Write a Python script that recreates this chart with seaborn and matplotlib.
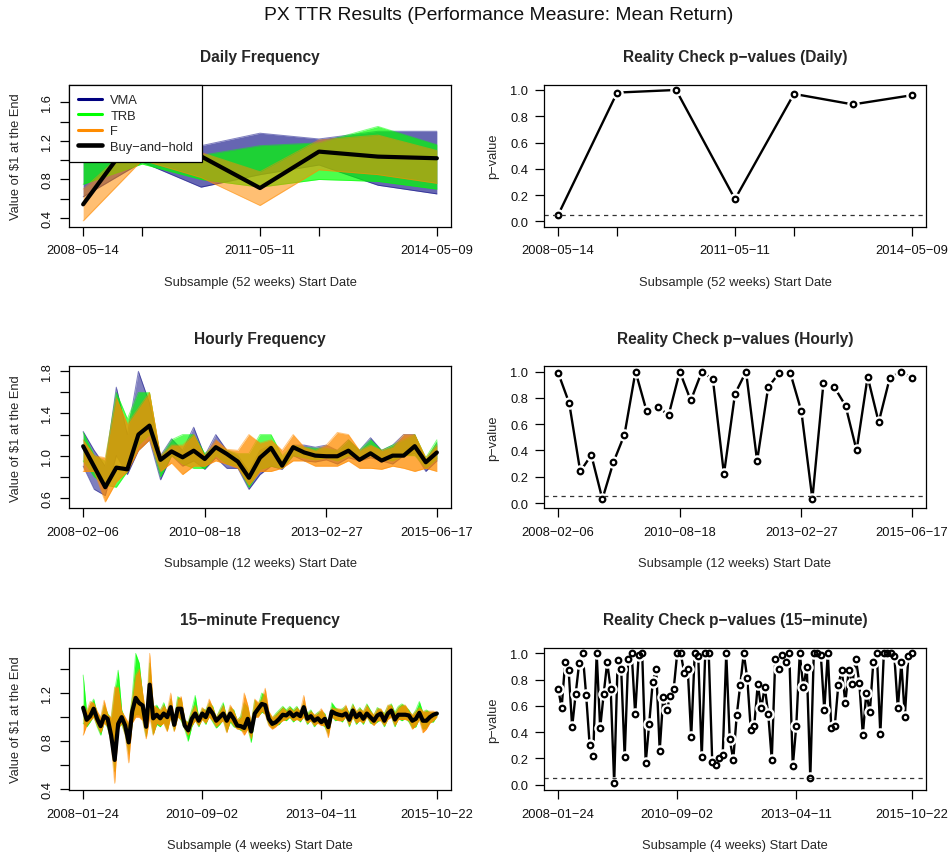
import numpy as np
import matplotlib.pyplot as plt
from matplotlib.lines import Line2D
import seaborn as sns

# ---- data ----
# Daily (52-week subsamples)
daily_ticks = [0, 1, 3, 4, 6]
daily_labels = ["2008-05-14", "", "2011-05-11", "", "2014-05-09"]
bh_daily = [0.542, 1.37, 1.04, 0.711, 1.089, 1.037, 1.02]
vma_daily_lo = [0.62, 0.98, 0.72, 0.85, 0.95, 0.74, 0.65]
vma_daily_hi = [1.00, 1.15, 1.15, 1.28, 1.22, 1.30, 1.30]
trb_daily_lo = [0.75, 0.96, 0.80, 0.72, 0.80, 0.78, 0.70]
trb_daily_hi = [1.00, 1.05, 1.05, 1.15, 1.18, 1.35, 1.16]
f_daily_lo = [0.37, 1.00, 0.82, 0.53, 0.90, 0.85, 0.76]
f_daily_hi = [0.70, 1.25, 1.08, 0.88, 1.21, 1.26, 1.10]
p_daily = [0.05, 0.98, 1.00, 0.17, 0.97, 0.89, 0.96]

# Hourly (12-week subsamples)
hourly_ticks = [0, 11, 22, 32]
hourly_labels = ["2008-02-06", "2010-08-18", "2013-02-27", "2015-06-17"]
bh_hourly = [1.089, 0.895, 0.70, 0.886, 0.87, 1.20, 1.285, 0.96, 1.04, 0.984, 1.047,
             0.968, 1.08, 1.016, 0.943, 0.79, 0.98, 1.073, 0.905, 1.08, 1.03, 1.0,
             0.994, 0.994, 1.047, 0.96, 1.022, 0.953, 1.0, 1.0, 1.09, 0.937, 1.03]
vma_hourly_lo = [0.90, 0.68, 0.62, 1.00, 0.82, 1.05, 1.15, 0.77, 1.00, 0.90, 0.95, 0.87,
                 0.98, 0.88, 0.88, 0.68, 0.82, 0.90, 0.87, 1.00, 0.95, 0.94, 0.96, 0.92,
                 0.98, 0.95, 0.98, 0.95, 0.92, 1.00, 1.02, 0.85, 0.95]
vma_hourly_hi = [1.23, 1.05, 0.90, 1.65, 1.20, 1.80, 1.50, 1.00, 1.16, 1.05, 1.27, 1.00,
                 1.20, 1.05, 1.00, 0.85, 1.05, 1.10, 0.95, 1.10, 1.10, 1.08, 1.10, 1.05,
                 1.15, 1.05, 1.17, 1.05, 1.10, 1.20, 1.20, 0.95, 1.12]
trb_hourly_lo = [0.95, 0.80, 0.72, 0.70, 0.85, 1.10, 1.20, 0.80, 1.00, 0.92, 0.88, 0.88,
                 1.00, 0.92, 0.90, 0.70, 0.87, 0.90, 0.88, 1.00, 0.98, 0.96, 0.98, 0.95,
                 1.00, 0.97, 1.00, 0.97, 0.95, 1.00, 1.00, 0.88, 0.97]
trb_hourly_hi = [1.22, 1.00, 0.95, 1.60, 1.35, 1.60, 1.60, 0.98, 1.15, 1.20, 1.20, 1.02,
                 1.10, 1.05, 1.02, 1.02, 1.20, 1.20, 1.00, 1.10, 1.08, 1.07, 1.07, 1.05,
                 1.15, 1.05, 1.15, 1.05, 1.10, 1.15, 1.20, 0.98, 1.15]
f_hourly_lo = [0.85, 0.85, 0.56, 0.75, 0.85, 1.05, 1.15, 0.85, 0.93, 0.82, 0.90, 0.90,
               0.95, 0.92, 0.88, 0.72, 0.85, 0.85, 0.88, 0.95, 0.95, 0.90, 0.90, 0.90,
               0.95, 0.88, 0.88, 0.87, 0.90, 0.88, 0.85, 0.88, 0.85]
f_hourly_hi = [1.15, 1.00, 0.98, 1.55, 1.30, 1.45, 1.60, 1.00, 1.10, 1.10, 1.20, 1.00,
               1.15, 1.06, 1.05, 1.20, 1.12, 1.15, 1.05, 1.20, 1.08, 1.05, 1.10, 1.22,
               1.20, 1.05, 1.10, 1.05, 1.08, 1.20, 1.20, 0.98, 1.10]
p_hourly = [0.99, 0.76, 0.24, 0.365, 0.03, 0.31, 0.52, 1.0, 0.70, 0.73, 0.67, 1.0,
            0.78, 1.0, 0.94, 0.22, 0.83, 1.0, 0.32, 0.88, 0.99, 0.99, 0.70, 0.03,
            0.91, 0.88, 0.74, 0.40, 0.96, 0.615, 0.95, 1.0, 0.95]

# 15-minute (4-week subsamples)
min15_ticks = [0, 34, 68, 101]
min15_labels = ["2008-01-24", "2010-09-02", "2013-04-11", "2015-10-22"]
bh_min15 = [1.078, 0.978, 1.008, 1.07, 0.986, 0.925, 1.008, 0.986, 0.847, 0.644,
            0.944, 1.0, 0.93, 0.79, 1.047, 1.16, 1.117, 1.097, 0.92, 1.27,
            0.99, 1.02, 0.99, 1.03, 1.0, 1.083, 0.936, 1.07, 1.07, 0.93,
            0.89, 0.986, 1.03, 0.97, 1.03, 1.0, 1.07, 1.03, 0.97, 1.0,
            1.03, 0.97, 1.03, 0.986, 0.93, 0.925, 0.91, 0.986, 0.88, 1.03,
            1.07, 1.11, 1.10, 0.986, 0.944, 0.958, 0.986, 1.02, 1.014, 1.04,
            1.008, 1.03, 1.008, 1.083, 0.986, 1.008, 0.97, 0.99, 0.958, 0.986,
            0.917, 1.047, 1.03, 1.02, 1.014, 1.03, 0.978, 1.055, 1.0, 1.03,
            0.986, 1.03, 1.0, 0.97, 1.014, 1.03, 0.97, 1.03, 1.055, 0.98,
            1.02, 1.02, 1.02, 1.014, 0.97, 0.986, 1.036, 0.97, 0.97, 1.0,
            1.02, 1.03]
trb_min15_lo = [0.95, 0.92, 0.96, 1.01, 0.92, 0.85, 0.96, 0.91, 0.80, 0.55,
                0.92, 0.94, 0.86, 0.70, 0.96, 1.02, 1.02, 0.98, 0.84, 1.05,
                0.86, 0.94, 0.92, 0.96, 0.89, 1.01, 0.89, 1.01, 0.97, 0.90,
                0.80, 0.92, 0.98, 0.92, 0.99, 0.94, 1.01, 0.96, 0.91, 0.94,
                0.98, 0.88, 0.96, 0.92, 0.91, 0.89, 0.88, 0.91, 0.79, 1.01,
                1.01, 1.04, 1.03, 0.94, 0.91, 0.93, 0.94, 0.98, 0.97, 1.00,
                0.96, 0.99, 0.96, 1.01, 0.94, 0.98, 0.92, 0.96, 0.94, 0.92,
                0.86, 1.01, 0.97, 0.98, 0.96, 1.01, 0.92, 1.01, 0.94, 0.98,
                0.94, 1.01, 0.95, 0.94, 0.96, 0.98, 0.92, 0.99, 1.01, 0.92,
                0.99, 0.97, 0.99, 0.96, 0.91, 0.92, 0.99, 0.90, 0.91, 0.96,
                0.96, 1.01]
trb_min15_hi = [1.35, 1.04, 1.10, 1.15, 1.03, 0.98, 1.10, 1.03, 0.98, 1.22,
                1.39, 1.06, 0.98, 0.93, 1.17, 1.53, 1.45, 1.18, 0.98, 1.45,
                1.08, 1.10, 1.05, 1.12, 1.03, 1.15, 0.97, 1.17, 1.15, 0.97,
                0.96, 1.06, 1.18, 0.99, 1.07, 1.06, 1.12, 1.09, 0.99, 1.06,
                1.12, 0.99, 1.08, 1.06, 0.97, 1.01, 1.12, 1.08, 0.94, 1.14,
                1.10, 1.20, 1.18, 1.04, 0.99, 1.03, 1.06, 1.09, 1.06, 1.09,
                1.06, 1.09, 1.04, 1.12, 1.03, 1.06, 1.01, 1.04, 1.05, 1.03,
                0.94, 1.12, 1.08, 1.06, 1.07, 1.09, 1.03, 1.11, 1.04, 1.08,
                1.04, 1.11, 1.06, 1.01, 1.08, 1.06, 1.03, 1.09, 1.11, 1.04,
                1.09, 1.11, 1.09, 1.06, 1.01, 1.06, 1.13, 1.04, 1.06, 1.04,
                1.04, 1.03]
f_min15_lo = [0.85, 0.93, 0.97, 1.00, 0.93, 0.87, 0.95, 0.92, 0.78, 0.45,
              0.90, 0.95, 0.85, 0.62, 0.95, 1.00, 1.00, 0.97, 0.82, 1.00,
              0.85, 0.95, 0.93, 0.95, 0.88, 1.00, 0.88, 1.00, 0.98, 0.90,
              0.85, 0.93, 0.97, 0.93, 0.98, 0.95, 1.00, 0.97, 0.92, 0.95,
              0.97, 0.87, 0.97, 0.93, 0.90, 0.90, 0.85, 0.90, 0.82, 1.00,
              1.00, 1.05, 1.02, 0.93, 0.90, 0.92, 0.95, 0.97, 0.98, 1.00,
              0.97, 0.98, 0.97, 1.00, 0.95, 0.97, 0.93, 0.95, 0.93, 0.93,
              0.83, 1.00, 0.98, 0.97, 0.97, 1.00, 0.93, 1.00, 0.95, 0.97,
              0.95, 1.00, 0.96, 0.93, 0.97, 0.97, 0.93, 0.98, 1.00, 0.93,
              0.98, 0.98, 0.98, 0.97, 0.90, 0.93, 0.98, 0.87, 0.90, 0.95,
              0.97, 1.00]
f_min15_hi = [1.10, 1.05, 1.13, 1.12, 1.05, 1.00, 1.14, 1.02, 1.00, 1.25,
              1.25, 1.05, 1.00, 0.95, 1.15, 1.35, 1.40, 1.20, 1.00, 1.53,
              1.10, 1.08, 1.06, 1.10, 1.05, 1.20, 0.98, 1.15, 1.17, 0.98,
              0.95, 1.05, 1.10, 1.00, 1.08, 1.05, 1.15, 1.08, 1.00, 1.05,
              1.10, 1.00, 1.10, 1.05, 0.98, 1.00, 1.20, 1.10, 0.95, 1.15,
              1.12, 1.15, 1.24, 1.05, 1.00, 1.02, 1.05, 1.08, 1.05, 1.08,
              1.05, 1.08, 1.05, 1.18, 1.02, 1.05, 1.02, 1.03, 1.07, 1.02,
              0.95, 1.08, 1.07, 1.07, 1.06, 1.10, 1.02, 1.10, 1.05, 1.07,
              1.05, 1.10, 1.05, 1.02, 1.07, 1.07, 1.02, 1.10, 1.10, 1.03,
              1.08, 1.10, 1.10, 1.05, 1.02, 1.05, 1.08, 1.05, 1.05, 1.05,
              1.05, 1.04]
p_min15 = [0.73, 0.585, 0.935, 0.87, 0.44, 0.69, 0.925, 1.0, 0.68, 0.30,
           0.22, 1.0, 0.43, 0.69, 0.93, 0.73, 0.01, 0.95, 0.88, 0.21,
           0.96, 1.0, 0.535, 0.99, 1.0, 0.165, 0.465, 0.78, 0.88, 0.26,
           0.665, 0.565, 0.675, 0.73, 1.0, 1.0, 0.85, 0.88, 0.365, 1.0,
           0.98, 0.21, 1.0, 1.0, 0.175, 0.15, 0.20, 0.23, 1.0, 0.345,
           0.19, 0.53, 0.76, 1.0, 0.81, 0.42, 0.45, 0.765, 0.58, 0.745,
           0.535, 0.19, 0.96, 0.88, 0.99, 0.93, 1.0, 0.14, 0.45, 1.0,
           0.74, 0.895, 0.05, 1.0, 1.0, 0.99, 0.565, 1.0, 0.43, 0.45,
           0.76, 0.87, 0.625, 0.875, 0.765, 0.96, 0.775, 0.38, 0.70, 0.55,
           0.935, 1.0, 0.385, 1.0, 1.0, 1.0, 0.98, 0.58, 0.93, 0.515,
           0.98, 1.0]

VMA_COLOR = "#000080"
TRB_COLOR = "#00ff00"
F_COLOR = "#ff8c00"

FS = 9.3
sns.set_theme(style="white")
plt.rcParams["font.family"] = ["Liberation Sans", "DejaVu Sans"]
plt.rcParams["axes.unicode_minus"] = True


def dash(s):
    return s.replace("-", "\u2212")


fig = plt.figure(figsize=(9.49, 8.54), dpi=100)
W, H = 382 / 949, 142 / 854
lefts = [69 / 949, 544 / 949]
bottoms = [(854 - 227.7) / 854, (854 - 509.3) / 854, (854 - 791) / 854]


def style_axes(ax, n, ticks, labels, left_panel):
    ax.set_xlim(-0.04 * (n - 1), 1.04 * (n - 1))
    ax.set_xticks(ticks)
    ax.set_xticklabels([dash(t) for t in labels])
    for sp in ax.spines.values():
        sp.set_color("black")
        sp.set_linewidth(0.9)
        sp.set_zorder(10)
    ax.tick_params(axis="x", length=6.5, width=0.9, pad=6.3, labelsize=FS,
                   color="black", labelcolor="#111111", bottom=True)
    ax.tick_params(axis="y", length=6.5, width=0.9, pad=5, labelsize=FS,
                   color="black", labelcolor="#111111", left=True)
    if left_panel:
        for lab in ax.get_yticklabels():
            lab.set_rotation(90)
            lab.set_va("center")
    ax.grid(False)


def value_panel(ax, bh, bands, yticks, ylabels_at, ylim, ticks, labels, title, xlabel):
    n = len(bh)
    x = np.arange(n)
    for lo, hi, color, alpha in bands:
        ax.fill_between(x, lo, hi, color=color, alpha=alpha, lw=0, zorder=1)
        sns.lineplot(x=x, y=lo, ax=ax, color=color, lw=0.7, alpha=0.5, zorder=1)
        sns.lineplot(x=x, y=hi, ax=ax, color=color, lw=0.7, alpha=0.5, zorder=1)
    sns.lineplot(x=x, y=bh, ax=ax, color="black", lw=3.0, zorder=5)
    ax.set_ylim(*ylim)
    ax.set_yticks(yticks)
    ax.set_yticklabels([f"{v:.1f}" if round(v, 1) in ylabels_at else "" for v in yticks])
    style_axes(ax, n, ticks, labels, True)
    ax.set_title(dash(title), fontsize=11.2, fontweight="bold", pad=17)
    ax.set_xlabel(dash(xlabel), fontsize=FS)
    ax.xaxis.set_label_coords(0.5, -0.345)
    ax.set_ylabel("Value of $1 at the End", fontsize=FS)
    ax.yaxis.set_label_coords(-0.122, 0.5)


def pvalue_panel(ax, pv, ticks, labels, title, xlabel):
    n = len(pv)
    x = np.arange(n)
    sns.lineplot(x=x, y=pv, ax=ax, color="black", lw=1.7, zorder=2)
    ax.plot(x, pv, ls="none", marker="o", ms=9, mfc="white", mec="none", zorder=3)
    ax.plot(x, pv, ls="none", marker="o", ms=4.0, mfc="none", mec="black", mew=1.6, zorder=4)
    ax.axhline(0.05, color="#333333", lw=0.9, ls=(0, (3.4, 3.4)), zorder=6)
    ax.set_ylim(-0.04, 1.04)
    ax.set_yticks([0.0, 0.2, 0.4, 0.6, 0.8, 1.0])
    ax.set_yticklabels(["0.0", "0.2", "0.4", "0.6", "0.8", "1.0"])
    style_axes(ax, n, ticks, labels, False)
    ax.set_title(dash(title), fontsize=11.2, fontweight="bold", pad=17)
    ax.set_xlabel(dash(xlabel), fontsize=FS)
    ax.xaxis.set_label_coords(0.5, -0.345)
    ax.set_ylabel(dash("p-value"), fontsize=FS)
    ax.yaxis.set_label_coords(-0.117, 0.5)


axes = [[fig.add_axes([l, b, W, H]) for l in lefts] for b in bottoms]

value_panel(axes[0][0], bh_daily,
            [(vma_daily_lo, vma_daily_hi, VMA_COLOR, 0.6),
             (trb_daily_lo, trb_daily_hi, TRB_COLOR, 0.7),
             (f_daily_lo, f_daily_hi, F_COLOR, 0.55)],
            np.arange(0.4, 1.61, 0.2), [0.4, 0.8, 1.2, 1.6], (0.31, 1.783),
            daily_ticks, daily_labels, "Daily Frequency",
            "Subsample (52 weeks) Start Date")
value_panel(axes[1][0], bh_hourly,
            [(vma_hourly_lo, vma_hourly_hi, VMA_COLOR, 0.5),
             (trb_hourly_lo, trb_hourly_hi, TRB_COLOR, 0.65),
             (f_hourly_lo, f_hourly_hi, F_COLOR, 0.75)],
            np.arange(0.6, 1.81, 0.2), [0.6, 1.0, 1.4, 1.8], (0.50, 1.848),
            hourly_ticks, hourly_labels, "Hourly Frequency",
            "Subsample (12 weeks) Start Date")
value_panel(axes[2][0], bh_min15,
            [(trb_min15_lo, trb_min15_hi, TRB_COLOR, 0.85),
             (f_min15_lo, f_min15_hi, F_COLOR, 0.85)],
            np.arange(0.4, 1.41, 0.2), [0.4, 0.8, 1.2], (0.394, 1.575),
            min15_ticks, min15_labels, "15-minute Frequency",
            "Subsample (4 weeks) Start Date")

pvalue_panel(axes[0][1], p_daily, daily_ticks, daily_labels,
             "Reality Check p-values (Daily)", "Subsample (52 weeks) Start Date")
pvalue_panel(axes[1][1], p_hourly, hourly_ticks, hourly_labels,
             "Reality Check p-values (Hourly)", "Subsample (12 weeks) Start Date")
pvalue_panel(axes[2][1], p_min15, min15_ticks, min15_labels,
             "Reality Check p-values (15-minute)", "Subsample (4 weeks) Start Date")

handles = [Line2D([], [], color=VMA_COLOR, lw=2.2),
           Line2D([], [], color=TRB_COLOR, lw=2.2),
           Line2D([], [], color=F_COLOR, lw=2.2),
           Line2D([], [], color="black", lw=3.3)]
leg = axes[0][0].legend(handles, ["VMA", "TRB", "F", dash("Buy-and-hold")],
                        loc="upper left", borderaxespad=0, fontsize=FS,
                        frameon=True, fancybox=False, framealpha=1,
                        edgecolor="black", handlelength=1.85, handletextpad=0.62,
                        labelspacing=0.27, borderpad=0.72)
leg.get_frame().set_linewidth(0.9)
leg.set_zorder(20)

fig.text(0.526, 1 - 15 / 854, "PX TTR Results (Performance Measure: Mean Return)",
         ha="center", va="center", fontsize=13.9, color="#111111")

fig.savefig("out.png", dpi=100)
